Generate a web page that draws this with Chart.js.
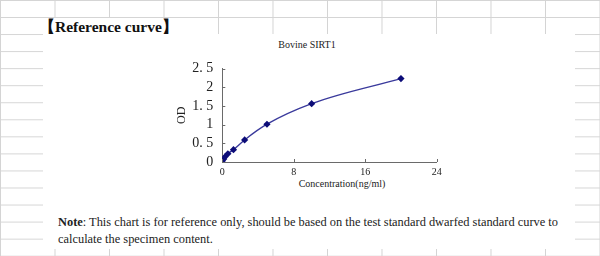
<!DOCTYPE html>
<html>
<head>
<meta charset="utf-8">
<script src="https://cdn.jsdelivr.net/npm/chart.js@4.4.0/dist/chart.umd.min.js"></script>
<style>
  html, body { margin: 0; padding: 0; }
  body {
    width: 600px; height: 256px; position: relative; overflow: hidden;
    background-color: #ffffff;
    background-image:
      linear-gradient(to right, #d4d4d4 1px, transparent 1px),
      linear-gradient(to bottom, #d4d4d4 1px, transparent 1px);
    background-size: 54.5px 17.05px;
    font-family: "Liberation Serif", "Times New Roman", serif;
  }
  .panel { position: absolute; left: 43px; top: 34px; width: 532px; height: 215px; background: #fff; }
  .titlebox { position: absolute; left: 40px; top: 18px; width: 125px; height: 16px; background: #fff; }
  .maintitle { position: absolute; left: 39px; top: 17px; font-size: 15.5px; font-weight: bold; color: #111; line-height: 20px; white-space: nowrap; }
  .charttitle { position: absolute; left: 257px; width: 100px; top: 39px; text-align: center; font-size: 10px; line-height: 12px; color: #222; white-space: nowrap; }
  .xtitle { position: absolute; left: 262px; width: 160px; top: 178px; text-align: center; font-size: 10px; line-height: 12px; color: #222; white-space: nowrap; }
  .note { position: absolute; left: 58px; top: 214px; font-size: 12.4px; line-height: 17px; color: #222; white-space: nowrap; }
  #wrap { position: absolute; left: 150px; top: 30px; width: 300px; height: 170px; }
</style>
</head>
<body>
<div class="panel"></div>
<div class="titlebox"></div>
<div class="maintitle">【Reference curve】</div>
<div class="charttitle" id="ctitle"></div>
<div class="xtitle" id="xtitle"></div>
<div class="note"><b>Note</b>: This chart is for reference only, should be based on the test standard dwarfed standard curve to<br>calculate the specimen content.</div>
<div id="wrap"><canvas id="c" width="300" height="170"></canvas></div>
<script>
const chartTitle = "Bovine SIRT1";
const xAxisTitle = "Concentration(ng/ml)";
const yAxisTitle = "OD";
const concentrations = [0, 0.156, 0.312, 0.625, 1.25, 2.5, 5, 10, 20];
const odValues = [0.03, 0.08, 0.14, 0.22, 0.33, 0.59, 1.01, 1.56, 2.23];
const xTickLabels = ["0", "8", "16", "24"];
const yTickLabels = ["0", "0. 5", "1", "1. 5", "2", "2. 5"];

document.getElementById('ctitle').textContent = chartTitle;
document.getElementById('xtitle').textContent = xAxisTitle;

const insideTicks = {
  id: 'insideTicks',
  afterDatasetsDraw(chart) {
    const ctx = chart.ctx;
    const xs = chart.scales.x, ys = chart.scales.y;
    ctx.save();
    ctx.strokeStyle = '#6a6a6a';
    ctx.lineWidth = 1;
    ctx.beginPath();
    xs.ticks.forEach(t => {
      const px = Math.round(xs.getPixelForValue(t.value)) + 0.5;
      ctx.moveTo(px, ys.bottom);
      ctx.lineTo(px, ys.bottom - 3);
    });
    ys.ticks.forEach(t => {
      const py = Math.round(ys.getPixelForValue(t.value)) + 0.5;
      ctx.moveTo(xs.left, py);
      ctx.lineTo(xs.left + 3, py);
    });
    ctx.stroke();
    ctx.restore();
  }
};

new Chart(document.getElementById('c'), {
  type: 'scatter',
  data: {
    datasets: [{
      data: concentrations.map((x, i) => ({ x: x, y: odValues[i] })),
      showLine: true,
      borderColor: '#3a3a9c',
      borderWidth: 1.4,
      cubicInterpolationMode: 'monotone',
      pointStyle: 'rectRot',
      pointRadius: 3.6,
      pointBackgroundColor: '#0c0c78',
      pointBorderColor: '#0c0c78',
      pointBorderWidth: 0
    }]
  },
  options: {
    responsive: false,
    animation: false,
    devicePixelRatio: 1,
    layout: { padding: { top: 38.5, right: 13.3, left: 0.3, bottom: 0 } },
    plugins: { legend: { display: false }, tooltip: { enabled: false }, title: { display: false } },
    scales: {
      x: {
        type: 'linear', min: 0, max: 24,
        afterFit(s) { s.height = 38; },
        afterBuildTicks(s) { s.ticks = xTickLabels.map(v => ({ value: Number(v) })); },
        ticks: {
          padding: 4, color: '#222', autoSkip: false, maxRotation: 0,
          font: { family: 'Liberation Serif', size: 10 },
          callback: (v, i) => xTickLabels[i]
        },
        grid: { display: false, drawTicks: false },
        border: { display: true, color: '#6a6a6a', width: 1 },
        title: { display: false }
      },
      y: {
        type: 'linear', min: 0, max: 2.5,
        afterFit(s) { s.width = 72; },
        afterBuildTicks(s) { s.ticks = yTickLabels.map(v => ({ value: Number(v.replace(' ', '')) })); },
        ticks: {
          padding: 9, color: '#222', autoSkip: false,
          font: { family: 'Liberation Serif', size: 14 },
          callback: (v, i) => yTickLabels[i]
        },
        grid: { display: false, drawTicks: false },
        border: { display: true, color: '#6a6a6a', width: 1 },
        title: {
          display: true, text: yAxisTitle, color: '#222',
          font: { family: 'Liberation Serif', size: 12 },
          padding: { top: 24.5, bottom: 0 }
        }
      }
    }
  },
  plugins: [insideTicks]
});
</script>
</body>
</html>
